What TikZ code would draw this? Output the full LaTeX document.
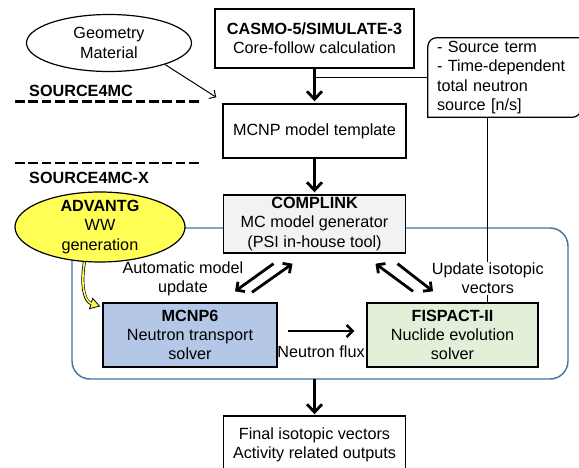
\documentclass[tikz,border=0pt]{standalone}
\usepackage{fontspec}
\setmainfont{Liberation Sans}
\usetikzlibrary{arrows.meta,shapes.geometric}
\definecolor{loopblue}{HTML}{41719C}
\definecolor{mcnpblue}{HTML}{B4C7E7}
\definecolor{fispgreen}{HTML}{E2F0D9}
\definecolor{linkgray}{HTML}{F2F2F2}
\definecolor{wwyellow}{HTML}{FFFF55}
\tikzset{
	box/.style={draw, line width=1.4pt, align=center, inner sep=2pt},
	oval/.style={draw, ellipse, line width=1.2pt, align=center, inner sep=0pt},
	flow/.style={line width=2.8pt, -{Straight Barb[length=8pt,width=15pt]}},
	swap/.style={line width=2.8pt, -{Straight Barb[length=6pt,width=12pt]}},
	cut/.style={line width=2.4pt, dash pattern=on 9.5pt off 3.9pt}
}

\begin{document}
\begin{tikzpicture}[x=1pt,y=-1pt,font=\fontsize{16.2}{19.3}\selectfont]
	\useasboundingbox (0,0) rectangle (579,468);
	\clip (0,0) rectangle (579,468);
	% Coupling loop
	\draw [loopblue, line width=1.4pt, rounded corners=18pt] (72,228) rectangle (568,379);
	\coordinate (loopout) at (314.5,379);
	% Boxes
	\node[box, minimum width=199, minimum height=59] (casmo) at (314.5,38.5) {\textbf{CASMO-5/SIMULATE-3}\\Core-follow calculation};
	\node[box, minimum width=183, minimum height=54] (tmpl) at (314.5,131) {MCNP model template};
	\node[box, fill=linkgray, minimum width=182, minimum height=58] (complink) at (314.5,224) {\textbf{COMPLINK}\\MC model generator\\(PSI in-house tool)};
	\node[box, fill=mcnpblue, minimum width=174, minimum height=64] (mcnp) at (190,335) {\textbf{MCNP6}\\Neutron transport\\solver};
	\node[box, fill=fispgreen, minimum width=171, minimum height=64] (fispact) at (452.5,335) {\textbf{FISPACT-II}\\Nuclide evolution\\solver};
	\node[box, minimum width=182, minimum height=58] (final) at (314.5,445) {Final isotopic vectors\\Activity related outputs};
	\node[oval, minimum width=165, minimum height=57] (geom) at (109,43) {Geometry\\Material};
	\node[oval, fill=wwyellow, inner ysep=-6pt, minimum width=170, minimum height=70] (advantg) at (100,227) {\textbf{ADVANTG}\\WW\\generation};
	% Source note
	\node[minimum width=153, minimum height=79, text width=135, inner xsep=9pt, align=left] (note) at (504.5,77.5) {- Source term\\- Time-dependent\\total neutron\\source [n/s]};
	\draw[line width=1.2pt] (note.north east) -- ([xshift=9pt]note.north west) arc[start angle=90, end angle=180, radius=9pt] -- (note.south west) -- ([xshift=-9pt]note.south east) arc[start angle=270, end angle=360, radius=9pt] -- cycle;
	\coordinate (tap) at ([xshift=60pt]note.south west);
	% Code levels
	\draw[cut] (15,101.7) -- (202,101.7);
	\draw[cut] (15,163) -- (202,163);
	\node[anchor=west, inner sep=0pt] (srcmc) at (29,91) {\textbf{SOURCE4MC}};
	\node[anchor=west, inner sep=0pt] (srcmcx) at (29,178) {\textbf{SOURCE4MC-X}};
	% Links
	\draw[line width=1.2pt] (casmo.south |- note.west) -- (note.west);
	\draw[line width=1.2pt] (tap) -- (tap |- fispact.north) node[pos=0.871, fill=white, inner sep=1pt, align=center] (updlbl) {Update isotopic\\vectors};
	\node[align=center] (autolbl) at (183,279) {Automatic model\\update};
	\draw[flow, shorten >=2pt] (casmo) -- (tmpl);
	\draw[flow, shorten >=2pt] (tmpl) -- (complink);
	\draw[flow, shorten >=1pt] (loopout) -- (final);
	\draw[line width=1pt, -{Straight Barb[length=5pt,width=10pt]}] (geom.-21) -- ([shift={(-6,-6)}]tmpl.north west);
	\draw[line width=3pt, -{Triangle[length=10pt,width=12pt,fill=wwyellow,line width=0.8pt]}] (advantg.246) .. controls (80,290) and (86,302) .. ([shift={(-2,4)}]mcnp.north west);
	\draw[wwyellow, line width=1.6pt, shorten >=9pt] (advantg.246) .. controls (80,290) and (86,302) .. ([shift={(-2,4)}]mcnp.north west);
	%Exchange
	\draw[swap] ([shift={(-41,10)}]complink.south) -- ([shift={(45,-11)}]mcnp.north);
	\draw[swap] ([shift={(62,-10)}]mcnp.north) -- ([shift={(-22,10)}]complink.south);
	\draw[swap] ([shift={(-39.5,-11)}]fispact.north) -- ([shift={(61,10)}]complink.south);
	\draw[swap] ([shift={(83,10)}]complink.south) -- ([shift={(-19.5,-11)}]fispact.north);
	\draw[line width=2.4pt, -{Straight Barb[length=6pt,width=12pt]}] ([shift={(10,-4)}]mcnp.east) -- ([shift={(-12,-4)}]fispact.west) node[pos=0.5, yshift=-21pt] (fluxlbl) {Neutron flux};
\end{tikzpicture}
\end{document}
